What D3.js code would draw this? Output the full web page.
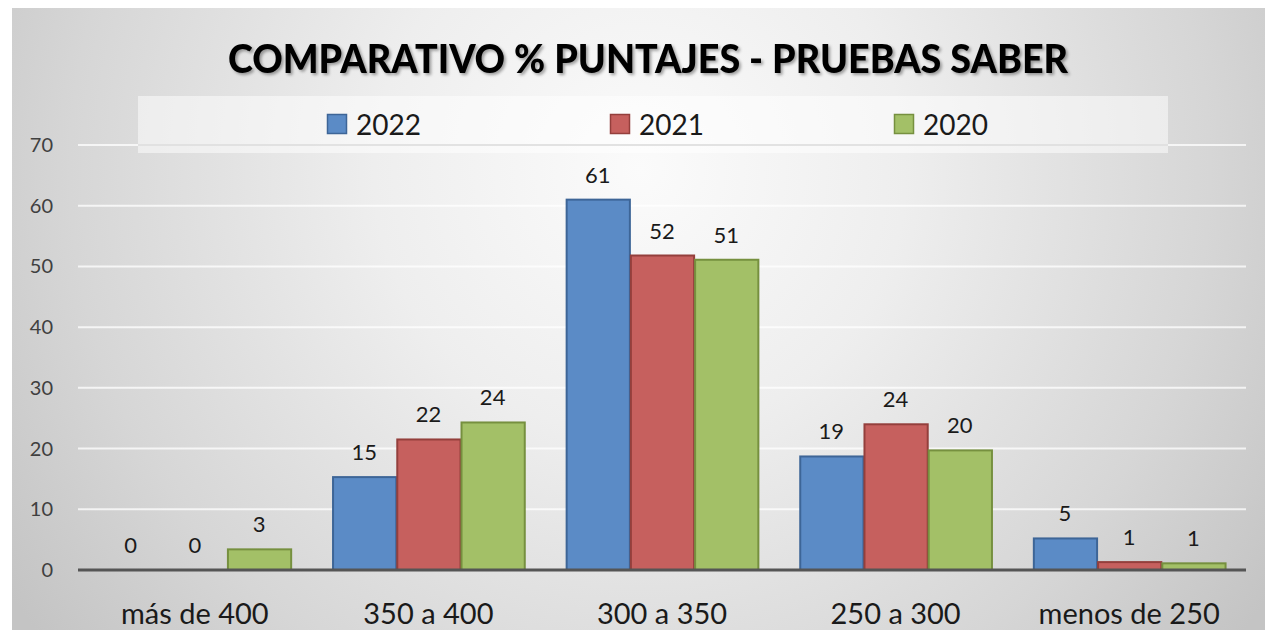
<!DOCTYPE html>
<html>
<head>
<meta charset="utf-8">
<script src="https://cdn.jsdelivr.net/npm/d3@7"></script>
<style>
  html, body { margin: 0; padding: 0; background: #ffffff; }
  svg { display: block; }
  text { font-family: Lato, "Open Sans", sans-serif; }
</style>
</head>
<body>
<svg id="chart" width="1265" height="630"></svg>
<script>
// ---- data ----
const categories = ["más de 400", "350 a 400", "300 a 350", "250 a 300", "menos de 250"];
const seriesNames = ["2022", "2021", "2020"];
const values2022 = [0, 15.3, 61.0, 18.7, 5.2];
const values2021 = [0, 21.5, 51.8, 24.0, 1.3];
const values2020 = [3.4, 24.3, 51.1, 19.7, 1.1];
const yTicks = [0, 10, 20, 30, 40, 50, 60, 70];
const titleText = "COMPARATIVO % PUNTAJES - PRUEBAS SABER";

const seriesValues = [values2022, values2021, values2020];
const fills = ["#5b8bc6", "#c6605e", "#a3c067"];
const strokes = ["#3d6597", "#943f3c", "#76903f"];

const W = 1265, H = 630;
const svg = d3.select("#chart");
const defs = svg.append("defs");

// background radial gradient
const rg = defs.append("radialGradient").attr("id", "bg")
  .attr("gradientUnits", "userSpaceOnUse")
  .attr("cx", 640).attr("cy", 170).attr("r", 760);
rg.append("stop").attr("offset", "0").attr("stop-color", "#fbfbfb");
rg.append("stop").attr("offset", "0.35").attr("stop-color", "#eeeeee");
rg.append("stop").attr("offset", "0.75").attr("stop-color", "#d6d6d6");
rg.append("stop").attr("offset", "1").attr("stop-color", "#c4c4c4");

const sh = defs.append("filter").attr("id", "shadow")
  .attr("x", "-5%").attr("y", "-20%").attr("width", "110%").attr("height", "150%");
sh.append("feDropShadow").attr("dx", 2).attr("dy", 2).attr("stdDeviation", 1.5)
  .attr("flood-color", "#000").attr("flood-opacity", 0.35);

svg.append("rect").attr("x", 12).attr("y", 8).attr("width", W - 12).attr("height", H - 8)
  .attr("fill", "url(#bg)");

// scales
const x0 = d3.scaleBand().domain(categories).range([78, 1246])
  .paddingInner(0.175).paddingOuter(0.0875);
const x1 = d3.scaleBand().domain(seriesNames).range([0, x0.bandwidth()]);
const y = d3.scaleLinear().domain([0, 70]).range([570, 145]);

// legend box
svg.append("rect").attr("x", 138).attr("y", 96).attr("width", 1030).attr("height", 57)
  .attr("fill", "#ffffff").attr("fill-opacity", 0.5);

// gridlines
svg.append("g").selectAll("line").data(yTicks.filter(d => d > 0)).join("line")
  .attr("x1", 78).attr("x2", 1246)
  .attr("y1", d => y(d)).attr("y2", d => y(d))
  .attr("stroke", "#ffffff").attr("stroke-opacity", 0.75).attr("stroke-width", 2);
svg.append("line").attr("x1", 138).attr("x2", 1168).attr("y1", y(70)).attr("y2", y(70))
  .attr("stroke", "#d9d9d9").attr("stroke-width", 1.5);

// title
svg.append("text").attr("x", 648).attr("y", 73).attr("text-anchor", "middle")
  .attr("font-size", 40).attr("font-weight", 900).attr("fill", "#000")
  .attr("textLength", 840).attr("lengthAdjust", "spacingAndGlyphs")
  .attr("filter", "url(#shadow)")
  .text(titleText);

const legendX = [327, 610, 894];
const lg = svg.append("g").selectAll("g").data(seriesNames).join("g")
  .attr("transform", (d, i) => `translate(${legendX[i]},114)`);
lg.append("rect").attr("width", 19).attr("height", 19).attr("x", 0.5).attr("y", 0.5)
  .attr("fill", (d, i) => fills[i]).attr("stroke", (d, i) => strokes[i]).attr("stroke-width", 1.5);
lg.append("text").attr("x", 29).attr("y", 21).attr("font-size", 28).attr("fill", "#1a1a1a")
  .text(d => d);

// y axis labels
svg.append("g").selectAll("text").data(yTicks).join("text")
  .attr("x", 53).attr("y", d => y(d) + 7).attr("text-anchor", "end")
  .attr("font-size", 20).attr("fill", "#404040")
  .text(d => d);

// bars
const groups = svg.append("g").selectAll("g").data(categories).join("g")
  .attr("transform", d => `translate(${x0(d)},0)`);

groups.each(function(cat, ci) {
  const g = d3.select(this);
  seriesNames.forEach((s, si) => {
    const v = seriesValues[si][ci];
    if (v > 0) {
      g.append("rect")
        .attr("x", x1(s) + 1).attr("width", x1.bandwidth() - 1)
        .attr("y", y(v)).attr("height", y(0) - y(v))
        .attr("fill", fills[si]).attr("stroke", strokes[si]).attr("stroke-width", 2);
    }
    g.append("text")
      .attr("x", x1(s) + x1.bandwidth() / 2).attr("y", y(v) - 17)
      .attr("text-anchor", "middle").attr("font-size", 22).attr("fill", "#1a1a1a")
      .text(Math.round(v));
  });
});

// x axis line
svg.append("line").attr("x1", 78).attr("x2", 1246).attr("y1", y(0)).attr("y2", y(0))
  .attr("stroke", "#555555").attr("stroke-width", 3);

// category labels
svg.append("g").selectAll("text").data(categories).join("text")
  .attr("x", d => x0(d) + x0.bandwidth() / 2).attr("y", 624)
  .attr("text-anchor", "middle").attr("font-size", 29).attr("fill", "#1a1a1a")
  .text(d => d);
</script>
</body>
</html>
